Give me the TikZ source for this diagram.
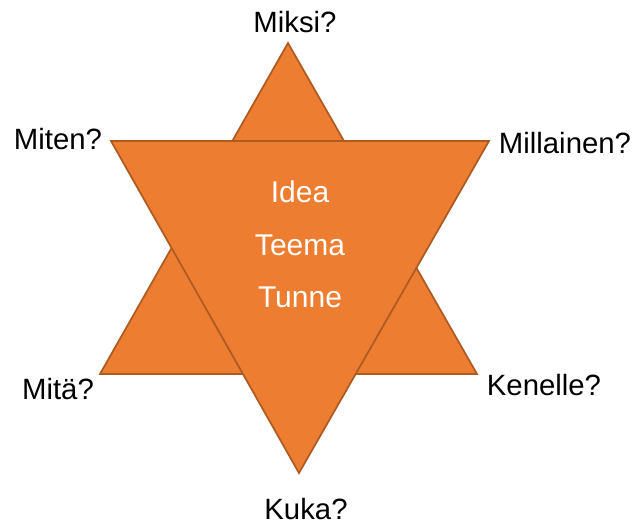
\documentclass[tikz,border=0pt]{standalone}
\usepackage{fontspec}
\setmainfont{Liberation Sans}
\usetikzlibrary{positioning}
\definecolor{starfill}{RGB}{237,125,49}
\definecolor{starline}{RGB}{174,90,33}
\tikzset{
    triangle/.style={fill=starfill, draw=starline, line width=1.3pt, line join=miter}, % Star halves
    question/.style={font=\fontsize{22}{26}\selectfont, text=black, inner sep=0pt}, % Outer labels
    core/.style={font=\fontsize{22.5}{27}\selectfont, text=white, inner sep=0pt}, % Centre words
}
\begin{document}
\begin{tikzpicture}[x=0.75pt, y=-0.75pt]
    \useasboundingbox (0,0) rectangle (632,526);

    % the two triangles
    \draw[triangle] (288,43) -- (477,374) -- (100,374) -- cycle;
    \draw[triangle] (111,141) -- (489,141) -- (299,473) -- cycle;

    \node[core] (idea) at (300,192) {Idea};
    \node[core] (teema) at (300,245) {Teema};
    \node[core] (tunne) at (300,297) {Tunne};

    \node[question] (miksi) at (295,22) {Miksi?};
    \node[question] (miten) at (58,139) {Miten?};
    \node[question] (millainen) at (565,143) {Millainen?};
    \node[question] (mita) at (58,389) {Mitä?};
    \node[question] (kenelle) at (544,385) {Kenelle?};
    \node[question] (kuka) at (306,509) {Kuka?};
\end{tikzpicture}
\end{document}
